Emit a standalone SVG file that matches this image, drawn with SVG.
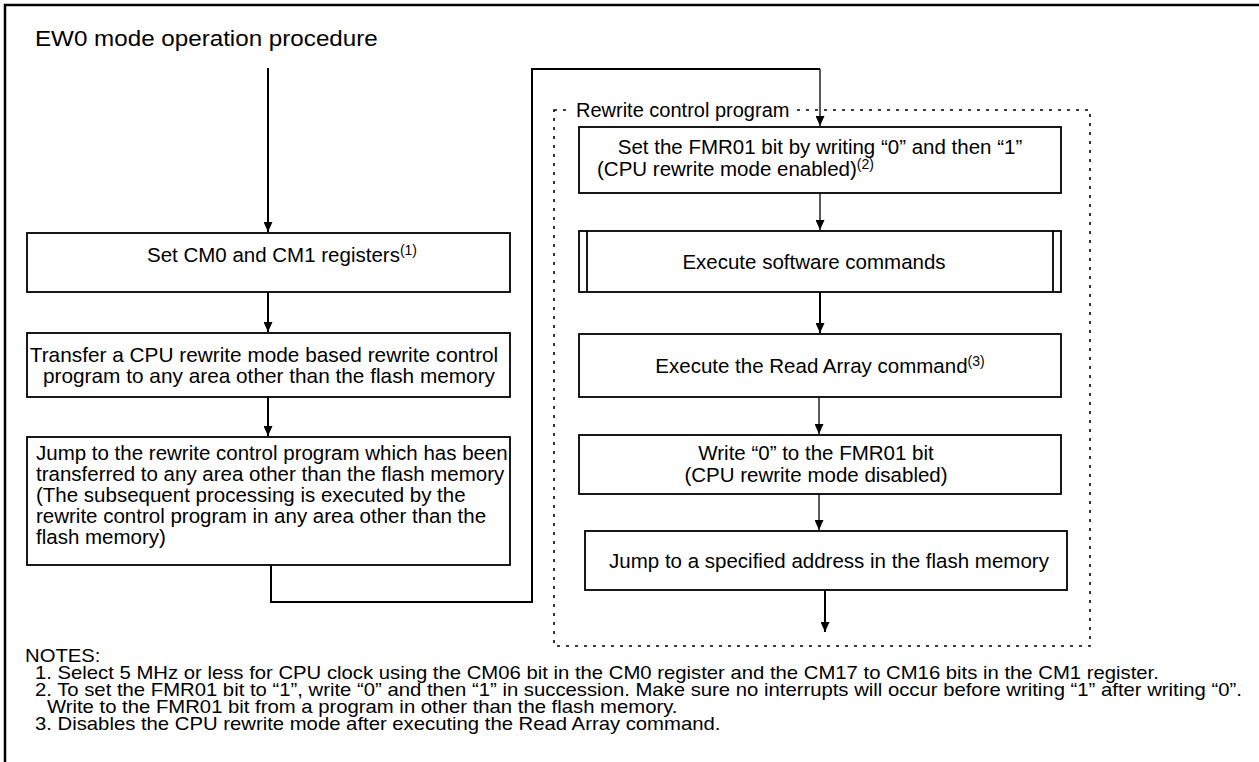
<svg xmlns="http://www.w3.org/2000/svg" width="1259" height="762" viewBox="0 0 1259 762">
<style>
.box{fill:#fff;stroke:#000;stroke-width:1.8}
.t{font-family:"Liberation Sans",Arial,sans-serif;font-size:20.5px;fill:#000}
.m{text-anchor:middle}
.n{font-size:18.5px}
.c{fill:none;stroke:#000;stroke-width:2}
.thin{stroke-width:1.3}
.dot{fill:none;stroke:#000;stroke-width:1.6;stroke-dasharray:3 6}
</style>
<defs>
<marker id="ah" markerUnits="userSpaceOnUse" markerWidth="10" markerHeight="9" refX="10" refY="4.5" orient="auto">
<path d="M0,0 L10,4.5 L0,9 Z" fill="#000"/>
</marker>
</defs>
<rect width="1259" height="762" fill="#fff"/>
<rect x="5" y="5" width="1300" height="800" fill="none" stroke="#000" stroke-width="2.5"/>
<text class="t" transform="scale(1.1,1)" x="31.8" y="46" style="font-size:22px">EW0 mode operation procedure</text>

<g id="rewrite-region">
<rect class="dot" x="554" y="110" width="536" height="536"/>
<rect x="570" y="100" width="222" height="20" fill="#fff"/>
<text class="t" x="576" y="117" style="font-size:20px">Rewrite control program</text>
</g>

<g id="connectors">
<path class="c" d="M268,68 V232" marker-end="url(#ah)"/>
<path class="c" d="M268,292 V332" marker-end="url(#ah)"/>
<path class="c" d="M268,397 V436" marker-end="url(#ah)"/>
<path class="c" d="M271,565 V602 H532 V69 H820"/>
<path class="c thin" d="M820,69 V126" marker-end="url(#ah)"/>
<path class="c thin" d="M820,193 V230" marker-end="url(#ah)"/>
<path class="c" d="M820,292 V333" marker-end="url(#ah)"/>
<path class="c thin" d="M819,397 V434" marker-end="url(#ah)"/>
<path class="c thin" d="M819,494 V530" marker-end="url(#ah)"/>
<path class="c" d="M825,590 V632" marker-end="url(#ah)"/>
</g>

<g id="n1">
<rect class="box" x="27" y="233" width="483" height="59"/>
<text class="t m" x="282" y="262">Set CM0 and CM1 registers<tspan dy="-7" style="font-size:14px">(1)</tspan></text>
</g>
<g id="n2">
<rect class="box" x="27" y="333" width="483" height="64"/>
<text class="t m" x="264" y="362" style="font-size:20.8px">Transfer a CPU rewrite mode based rewrite control</text>
<text class="t m" x="269" y="383" style="font-size:20.8px">program to any area other than the flash memory</text>
</g>
<g id="n3">
<rect class="box" x="27" y="437" width="483" height="128"/>
<text class="t" x="36" y="460">Jump to the rewrite control program which has been</text>
<text class="t" x="36" y="481">transferred to any area other than the flash memory</text>
<text class="t" x="36" y="502">(The subsequent processing is executed by the</text>
<text class="t" x="36" y="523">rewrite control program in any area other than the</text>
<text class="t" x="36" y="544">flash memory)</text>
</g>
<g id="n4">
<rect class="box" x="579" y="127" width="482" height="66"/>
<text class="t m" x="820" y="154">Set the FMR01 bit by writing “0” and then “1”</text>
<text class="t" x="597" y="176">(CPU rewrite mode enabled)<tspan dy="-7" style="font-size:14px">(2)</tspan></text>
</g>
<g id="n5">
<rect class="box" x="579" y="231" width="482" height="61"/>
<path d="M587,231 V292 M1053,231 V292" stroke="#000" stroke-width="1.8"/>
<text class="t m" x="814" y="269">Execute software commands</text>
</g>
<g id="n6">
<rect class="box" x="579" y="334" width="482" height="63"/>
<text class="t m" x="820" y="373">Execute the Read Array command<tspan dy="-7" style="font-size:14px">(3)</tspan></text>
</g>
<g id="n7">
<rect class="box" x="579" y="435" width="482" height="59"/>
<text class="t m" x="816" y="460">Write “0” to the FMR01 bit</text>
<text class="t m" x="816" y="482">(CPU rewrite mode disabled)</text>
</g>
<g id="n8">
<rect class="box" x="585" y="531" width="482" height="59"/>
<text class="t m" x="829" y="568">Jump to a specified address in the flash memory</text>
</g>

<g id="notes" transform="scale(1.097,1)">
<text class="t n" x="22.8" y="662">NOTES:</text>
<text class="t n" x="31.9" y="679">1. Select 5 MHz or less for CPU clock using the CM06 bit in the CM0 register and the CM17 to CM16 bits in the CM1 register.</text>
<text class="t n" x="31.9" y="696">2. To set the FMR01 bit to “1”, write “0” and then “1” in succession. Make sure no interrupts will occur before writing “1” after writing “0”.</text>
<text class="t n" x="42.8" y="713">Write to the FMR01 bit from a program in other than the flash memory.</text>
<text class="t n" x="31.9" y="730">3. Disables the CPU rewrite mode after executing the Read Array command.</text>
</g>
</svg>
